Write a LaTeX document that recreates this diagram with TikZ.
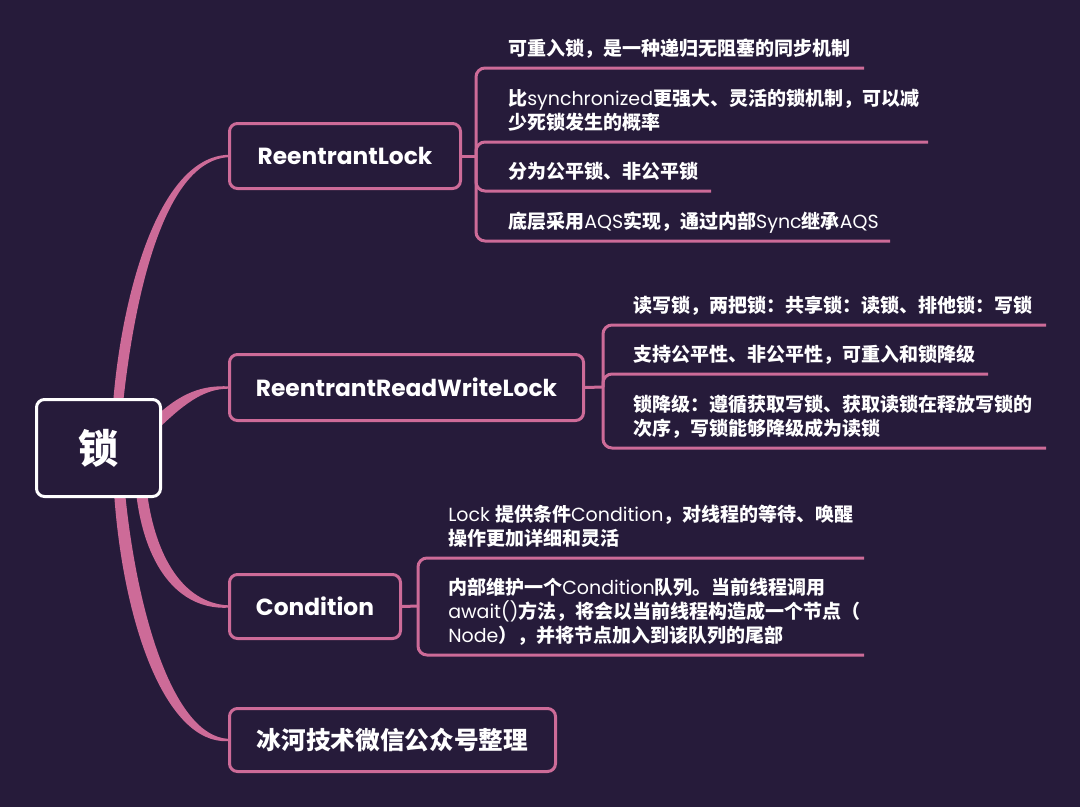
\documentclass[tikz,border=0pt]{standalone}
\usepackage{fontspec}
\setmainfont{Noto Sans CJK SC}
\newfontfamily\lat{Poppins}
\usetikzlibrary{calc}
\definecolor{bgc}{HTML}{261B3A}
\definecolor{pk}{HTML}{CD6B98}
\newcommand\pxl{0.75pt}
\pgfdeclarelayer{back}\pgfdeclarelayer{links}\pgfsetlayers{back,links,main}
\tikzset{
  topic/.style={draw=pk, fill=bgc, line width=3*\pxl, rounded corners=8*\pxl, text=white, inner sep=0pt},
  centre/.style={topic, draw=white, font=\bfseries\fontsize{30pt}{36pt}\selectfont},
  hlat/.style={font=\lat\bfseries\fontsize{17.5pt}{21pt}\selectfont},
  hcjk/.style={font=\bfseries\fontsize{18.5pt}{22pt}\selectfont},
  leaf/.style={anchor=base west, align=left, text=white, inner sep=0pt, font=\bfseries\fontsize{14.25pt}{18pt}\selectfont},
  link/.style={draw=pk, line width=3*\pxl, rounded corners=9*\pxl},
  branch/.style={fill=pk}
}
\newcommand\la[1]{{\lat\mdseries #1}}
\begin{document}
\begin{tikzpicture}[x=0.75pt, y=-0.75pt]
\begin{pgfonlayer}{back}
  \fill[bgc] (0,0) rectangle (1080,807);
\end{pgfonlayer}
\useasboundingbox (0,0) rectangle (1080,807);

% topics
\node[centre, minimum width=124*\pxl, minimum height=97*\pxl] (ctr) at (98.5,448) {锁};
\node[topic, hlat, minimum width=231*\pxl, minimum height=65*\pxl] (rl) at (345,156) {ReentrantLock};
\node[topic, hlat, minimum width=354*\pxl, minimum height=66*\pxl] (rw) at (406.5,387.5) {ReentrantReadWriteLock};
\node[topic, hlat, minimum width=171*\pxl, minimum height=64*\pxl] (cd) at (315,606.5) {Condition};
\node[topic, hcjk, minimum width=326*\pxl, minimum height=63*\pxl] (bj) at (392.5,740) {冰河技术微信公众号整理};

% leaves of ReentrantLock (anchor = baseline of the last line)
\node[leaf] (rl1) at (508,55) {可重入锁，是一种递归无阻塞的同步机制};
\node[leaf] (rl2) at (508,129) {比\la{synchronized}更强大、灵活的锁机制，可以减\\少死锁发生的概率};
\node[leaf] (rl3) at (508,178) {分为公平锁、非公平锁};
\node[leaf] (rl4) at (508,228) {底层采用\la{AQS}实现，通过内部\la{Sync}继承\la{AQS}};

% leaves of ReentrantReadWriteLock
\node[leaf] (rw1) at (633,312) {读写锁，两把锁：共享锁：读锁、排他锁：写锁};
\node[leaf] (rw2) at (633,361) {支持公平性、非公平性，可重入和锁降级};
\node[leaf] (rw3) at (633,435) {锁降级：遵循获取写锁、获取读锁在释放写锁的\\次序，写锁能够降级成为读锁};

% leaves of Condition
\node[leaf] (cd1) at (448,545) {\la{Lock }提供条件\la{Condition}，对线程的等待、唤醒\\操作更加详细和灵活};
\node[leaf] (cd2) at (448,642) {内部维护一个\la{Condition}队列。当前线程调用\\\la{await()}方法，将会以当前线程构造成一个节点（\\\la{Node}），并将节点加入到该队列的尾部};

% junctions and underline ends
\coordinate (rlj) at (476,156);
\coordinate (rwj) at (603,387);
\coordinate (cdj) at (418,606);
\coordinate (rl1e) at (864,68);
\coordinate (rl2e) at (928,142);
\coordinate (rl3e) at (711,191);
\coordinate (rl4e) at (890,241);
\coordinate (rw1e) at (1046,325);
\coordinate (rw2e) at (988,374);
\coordinate (rw3e) at (1046,448);
\coordinate (cd1e) at (864,558);
\coordinate (cd2e) at (864,655);

\begin{pgfonlayer}{links}
  % tapered main branches
  \fill[branch] (113,404) .. controls (121,300) and (157,157.5) .. ($(rl.west)+(0,-1.2)$)
     -- ($(rl.west)+(0,1.2)$) .. controls (163,161.5) and (134,300) .. (123,404) -- cycle;
  \fill[branch] (153,419) .. controls (182,391) and (204,385.5) .. ($(rw.west)+(0,-1.2)$)
     -- ($(rw.west)+(0,1.2)$) .. controls (206,389) and (188,400) .. (159,428) -- cycle;
  \fill[branch] (136,492) .. controls (144,564) and (177,610) .. ($(cd.west)+(0,1.2)$)
     -- ($(cd.west)+(0,-1.2)$) .. controls (183,603) and (155,556) .. (147,492) -- cycle;
  \fill[branch] (114,492) .. controls (123,625) and (166,744) .. ($(bj.west)+(0,1.2)$)
     -- ($(bj.west)+(0,-1.2)$) .. controls (174,736) and (137,615) .. (125,492) -- cycle;
  % brackets
  \draw[link] (rl.east) -- (rlj);
  \draw[link] (rlj) |- (rl1e);
  \draw[link] (rlj) |- (rl2e);
  \draw[link] (rlj) |- (rl3e);
  \draw[link] (rlj) |- (rl4e);
  \draw[link] (rw.east) -- (rwj);
  \draw[link] (rwj) |- (rw1e);
  \draw[link] (rwj) |- (rw2e);
  \draw[link] (rwj) |- (rw3e);
  \draw[link] (cd.east) -- (cdj);
  \draw[link] (cdj) |- (cd1e);
  \draw[link] (cdj) |- (cd2e);
\end{pgfonlayer}
\end{tikzpicture}
\end{document}
